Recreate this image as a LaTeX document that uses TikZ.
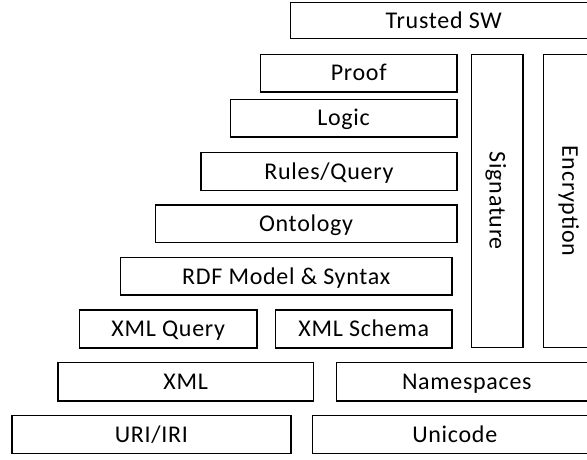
\documentclass[tikz,border=0pt]{standalone}
\usepackage{fontspec}
\setmainfont{Carlito}[LetterSpace=3]
\tikzset{
  layer/.style={draw=black, line width=1.5pt, inner sep=0pt,
    text height=15.5pt, text depth=0pt,
    font=\fontsize{24}{28}\selectfont},
  pillar/.style={layer, rotate=-90}
}
% horizontal layer given by its corners (x1,y1) and (x2,y2)
\newcommand\slab[6]{%
  \node[layer, minimum width={(#4-#2)*1pt}, minimum height={(#5-#3)*1pt}]
    (#1) at ({(#2+#4)/2},{(#3+#5)/2}) {#6};}
% vertical pillar given by its corners, text runs top to bottom
\newcommand\column[6]{%
  \node[pillar, minimum width={(#5-#3)*1pt}, minimum height={(#4-#2)*1pt}]
    (#1) at ({(#2+#4)/2},{(#3+#5)/2}) {#6};}
\begin{document}
\begin{tikzpicture}[x=1pt,y=-1pt]
  \useasboundingbox (0,0) rectangle (587,460);
  \clip (0,0) rectangle (587,460);
  \slab{trusted}{290.5}{2.7}{597}{38.7}{Trusted SW}
  \slab{proof}{260.6}{54.3}{456.8}{92}{Proof}
  \slab{logic}{230.3}{99.3}{456.8}{137}{Logic}
  \slab{rules}{201}{152.3}{456.8}{190.3}{Rules/Query}
  \slab{onto}{155.4}{205}{456.8}{242.7}{Ontology}
  \slab{rdf}{120.6}{257.7}{451.9}{295}{RDF Model \& Syntax}
  \slab{xquery}{79.7}{310}{256.8}{348}{XML Query}
  \slab{xschema}{275.6}{310}{451.9}{348}{XML Schema}
  \slab{xml}{58}{362.7}{313.4}{401}{XML}
  \slab{ns}{336.6}{362.7}{597}{401}{Namespaces}
  \slab{uri}{12}{415.3}{290.9}{453.3}{URI/IRI}
  \slab{unicode}{312.6}{415.3}{597}{453.3}{Unicode}
  \column{sig}{471.5}{54.3}{523}{347.5}{Signature}
  \column{enc}{543.3}{54.3}{597}{347.5}{Encryption}
\end{tikzpicture}
\end{document}
